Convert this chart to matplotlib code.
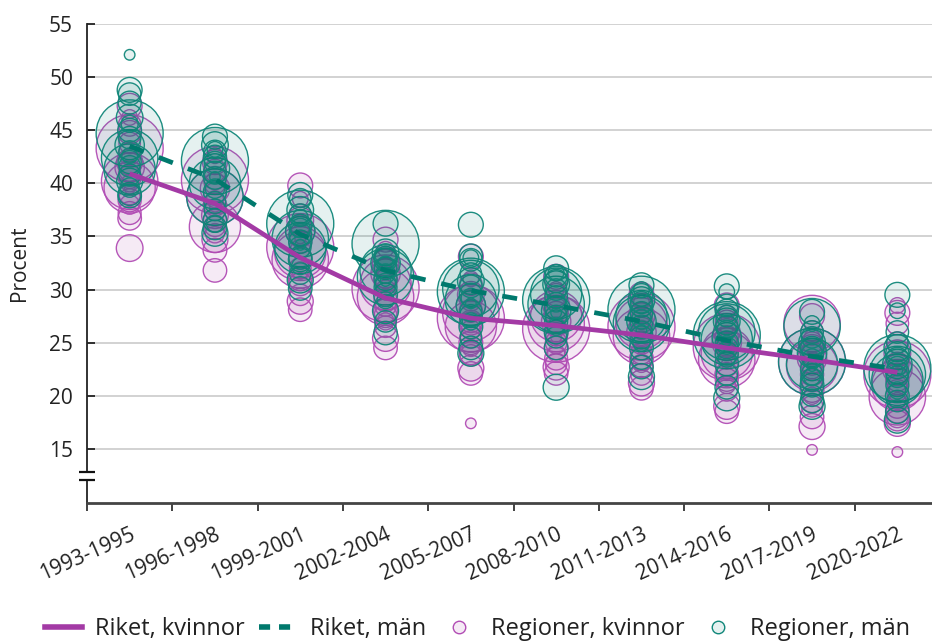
import matplotlib
matplotlib.use("Agg")
import matplotlib.pyplot as plt
import matplotlib.transforms as mtransforms
from matplotlib.lines import Line2D
import numpy as np

plt.rcParams['font.family'] = ['Open Sans', 'DejaVu Sans']

# ---------------- data ----------------
periods = ["1993-1995", "1996-1998", "1999-2001", "2002-2004", "2005-2007",
           "2008-2010", "2011-2013", "2014-2016", "2017-2019", "2020-2022"]

riket_kvinnor = [40.9, 38.1, 33.0, 29.2, 27.3, 26.6, 25.7, 24.5, 23.4, 22.2]
riket_man = [43.5, 40.4, 35.2, 31.8, 29.9, 28.5, 27.0, 25.2, 23.7, 22.5]

# Region population (thousands) -> bubble size
regioner = ["Stockholm", "Västra Götaland", "Skåne", "Östergötland", "Uppsala",
            "Jönköping", "Halland", "Örebro", "Dalarna", "Gävleborg", "Värmland",
            "Södermanland", "Västmanland", "Västerbotten", "Norrbotten",
            "Västernorrland", "Kalmar", "Kronoberg", "Blekinge", "Jämtland", "Gotland"]
befolkning = [2400, 1700, 1400, 460, 380, 360, 330, 300, 285, 285, 280,
              295, 270, 270, 250, 245, 245, 200, 155, 130, 60]

reg_kvinnor_1993 = [43.3, 40.2, 39.6, 41.5, 33.9, 42.0, 47.3, 44.8, 38.4, 40.6, 37.2, 36.7, 42.8, 45.5, 39.0, 41.2, 43.8, 38.0, 40.0, 46.2, 39.5]
reg_kvinnor_1996 = [40.3, 38.7, 35.9, 39.5, 37.0, 34.7, 42.0, 33.7, 36.5, 40.5, 38.0, 31.8, 41.2, 39.0, 37.5, 36.0, 40.0, 35.3, 38.5, 42.6, 37.8]
reg_kvinnor_1999 = [34.0, 32.8, 33.5, 35.5, 36.5, 28.9, 39.8, 31.0, 34.5, 33.0, 30.5, 28.1, 37.0, 35.0, 32.0, 29.5, 36.0, 33.8, 31.8, 38.5, 34.8]
reg_kvinnor_2002 = [30.1, 29.3, 30.5, 31.5, 32.5, 25.4, 34.7, 28.0, 30.8, 29.0, 27.5, 24.5, 33.0, 31.2, 28.5, 26.5, 32.0, 30.0, 27.0, 33.8, 29.5]
reg_kvinnor_2005 = [27.3, 27.8, 26.5, 28.5, 29.5, 22.6, 33.1, 25.0, 28.0, 26.8, 24.0, 22.1, 30.5, 27.0, 25.5, 23.8, 29.0, 26.2, 24.5, 31.0, 17.4]
reg_kvinnor_2008 = [26.3, 26.8, 27.5, 27.0, 28.5, 22.7, 31.2, 24.5, 27.8, 25.8, 23.5, 22.1, 29.5, 26.0, 25.0, 23.0, 28.2, 26.5, 24.0, 30.0, 25.5]
reg_kvinnor_2011 = [26.5, 25.6, 26.8, 26.0, 27.5, 21.2, 29.5, 23.5, 27.0, 25.0, 22.8, 20.7, 28.5, 25.8, 24.0, 22.0, 27.8, 26.2, 23.0, 28.8, 24.5]
reg_kvinnor_2014 = [24.6, 23.4, 24.0, 25.0, 26.0, 19.0, 28.5, 22.0, 25.5, 23.8, 21.5, 18.5, 27.0, 24.8, 22.8, 20.5, 26.5, 24.2, 21.0, 27.8, 23.0]
reg_kvinnor_2017 = [23.2, 26.8, 22.8, 23.5, 24.5, 17.1, 27.5, 20.5, 24.0, 22.0, 19.5, 18.0, 26.0, 23.0, 21.5, 19.0, 25.0, 22.5, 20.0, 25.5, 14.9]
reg_kvinnor_2020 = [22.0, 19.9, 21.0, 22.5, 24.0, 17.4, 27.8, 19.0, 23.0, 21.5, 18.5, 17.8, 26.8, 22.0, 20.5, 18.0, 25.0, 21.0, 19.5, 28.5, 14.7]

reg_man_1993 = [44.7, 42.4, 41.3, 43.6, 46.2, 40.2, 48.8, 45.0, 39.0, 42.0, 47.6, 38.8, 44.3, 48.4, 40.8, 41.6, 43.0, 39.6, 45.6, 42.6, 52.1]
reg_man_1996 = [42.1, 38.7, 40.0, 41.4, 43.6, 35.3, 44.4, 36.5, 39.2, 42.5, 41.0, 35.8, 43.0, 40.5, 38.2, 37.5, 42.0, 39.5, 36.2, 43.2, 40.6]
reg_man_1999 = [36.2, 34.8, 33.9, 35.5, 37.5, 30.9, 38.9, 32.8, 36.0, 34.5, 33.0, 30.1, 37.0, 35.2, 34.0, 31.5, 38.5, 35.8, 32.2, 36.8, 34.2]
reg_man_2002 = [34.3, 31.2, 31.8, 32.5, 33.5, 28.0, 36.2, 29.5, 32.8, 31.0, 30.2, 25.9, 33.0, 32.0, 30.5, 27.0, 33.3, 31.5, 29.0, 32.4, 30.8]
reg_man_2005 = [29.8, 30.1, 29.0, 28.5, 30.8, 24.0, 36.1, 26.5, 33.2, 29.5, 27.5, 24.5, 32.8, 30.3, 28.0, 25.5, 31.5, 29.2, 27.0, 33.0, 28.7]
reg_man_2008 = [29.0, 28.6, 29.6, 28.0, 30.5, 20.8, 32.0, 26.0, 30.8, 28.3, 27.0, 24.5, 31.3, 29.3, 27.5, 25.5, 30.0, 28.8, 26.5, 31.6, 27.8]
reg_man_2011 = [28.1, 26.8, 27.5, 27.0, 29.0, 21.8, 30.4, 24.5, 28.5, 26.5, 25.5, 22.7, 29.5, 27.8, 26.0, 23.5, 28.8, 27.2, 25.0, 30.0, 26.2]
reg_man_2014 = [25.7, 26.0, 25.3, 25.5, 27.0, 19.8, 30.3, 23.0, 28.0, 25.0, 24.0, 20.8, 28.5, 26.5, 24.5, 22.0, 27.5, 26.2, 23.5, 29.8, 25.2]
reg_man_2017 = [23.2, 26.5, 23.0, 24.0, 25.0, 19.0, 27.9, 21.0, 24.5, 22.5, 21.5, 19.5, 26.0, 23.8, 22.0, 20.0, 25.5, 23.5, 21.8, 26.8, 22.8]
reg_man_2020 = [22.6, 22.0, 21.5, 23.0, 24.5, 17.7, 29.5, 20.0, 24.0, 22.2, 21.0, 18.5, 26.0, 23.5, 21.8, 19.5, 25.0, 22.8, 20.5, 28.0, 22.4]

reg_kvinnor = [reg_kvinnor_1993, reg_kvinnor_1996, reg_kvinnor_1999, reg_kvinnor_2002,
               reg_kvinnor_2005, reg_kvinnor_2008, reg_kvinnor_2011, reg_kvinnor_2014,
               reg_kvinnor_2017, reg_kvinnor_2020]
reg_man = [reg_man_1993, reg_man_1996, reg_man_1999, reg_man_2002, reg_man_2005,
           reg_man_2008, reg_man_2011, reg_man_2014, reg_man_2017, reg_man_2020]

# ---------------- style ----------------
PURPLE = "#A33AA5"
PURPLE_EDGE = "#B24DB5"
TEAL = "#00796D"
TEAL_EDGE = "#11877A"
TEXT = "#222222"
size_scale = 0.97

fig = plt.figure(figsize=(9.32, 6.44), dpi=100)
ax = fig.add_axes([87/932, 1-503/644, 853/932, (503-24)/644])

x = np.arange(len(periods))
sizes = np.array(befolkning) * size_scale

for i in range(len(periods)):
    ax.scatter(np.full(len(regioner), x[i]), reg_kvinnor[i], s=sizes,
               facecolor=matplotlib.colors.to_rgba(PURPLE, 0.10),
               edgecolor=matplotlib.colors.to_rgba(PURPLE_EDGE, 0.95),
               linewidth=1.0, zorder=2)
for i in range(len(periods)):
    ax.scatter(np.full(len(regioner), x[i]), reg_man[i], s=sizes,
               facecolor=matplotlib.colors.to_rgba(TEAL, 0.10),
               edgecolor=matplotlib.colors.to_rgba(TEAL_EDGE, 0.95),
               linewidth=1.0, zorder=3)

ax.plot(x, riket_kvinnor, color=PURPLE, lw=3.4, zorder=5, solid_capstyle='butt')
ax.plot(x, riket_man, color=TEAL, lw=3.4, ls=(0, (3.2, 3.4)), zorder=5,
        dash_capstyle='butt')

ax.set_xlim(-0.5, 9.5)
ax.set_ylim(9.9, 55)
ax.set_yticks(np.arange(15, 56, 5))
ax.yaxis.grid(True, color="#cfcfcf", lw=1.3, zorder=0)
ax.set_axisbelow(True)
ax.tick_params(axis='y', direction='in', length=6, width=1.3, color='#222222',
               labelsize=15, labelcolor=TEXT, pad=10)

ax.set_xticks(np.arange(-0.5, 9.0, 1.0))
ax.set_xticklabels([])
ax.set_xticks(x, minor=True)
ax.set_xticklabels(periods, minor=True, rotation=24, ha='right',
                   rotation_mode='anchor', va='top')
ax.tick_params(axis='x', which='major', direction='out', length=6, width=1.3,
               color='#333333')
ax.tick_params(axis='x', which='minor', length=0, pad=15, labelsize=15,
               labelcolor=TEXT)

for s in ['top', 'right']:
    ax.spines[s].set_visible(False)
ax.spines['left'].set_color('#222222')
ax.spines['left'].set_linewidth(1.3)
ax.spines['bottom'].set_color('#444444')
ax.spines['bottom'].set_linewidth(2.0)

ax.set_ylabel("Procent", fontsize=15, color=TEXT, labelpad=14)

# axis break on y-axis
trans = mtransforms.blended_transform_factory(ax.transAxes, ax.transData)
ax.plot([0, 0], [12.15, 12.75], transform=trans, color='white', lw=3,
        clip_on=False, zorder=6, solid_capstyle='butt')
for yb in [12.08, 12.84]:
    ax.plot([-0.009, 0.009], [yb, yb], transform=trans, color='#111111', lw=1.6,
            clip_on=False, zorder=7, solid_capstyle='butt')

# legend
handles = [
    Line2D([], [], color=PURPLE, lw=4),
    Line2D([], [], color=TEAL, lw=4, ls=(0, (2.0, 1.6))),
    Line2D([], [], ls='none', marker='o', markersize=9,
           markerfacecolor=matplotlib.colors.to_rgba(PURPLE, 0.10),
           markeredgecolor=PURPLE_EDGE, markeredgewidth=1.0),
    Line2D([], [], ls='none', marker='o', markersize=9,
           markerfacecolor=matplotlib.colors.to_rgba(TEAL, 0.10),
           markeredgecolor=TEAL_EDGE, markeredgewidth=1.0),
]
labels = ["Riket, kvinnor", "Riket, män", "Regioner, kvinnor", "Regioner, män"]
leg = fig.legend(handles, labels, loc='center', bbox_to_anchor=(0.512, 1-629/644),
                 ncol=4, frameon=False, fontsize=17, handlelength=1.6,
                 handletextpad=0.55, columnspacing=0.6, labelcolor=TEXT)

fig.savefig("out.png", dpi=100)
